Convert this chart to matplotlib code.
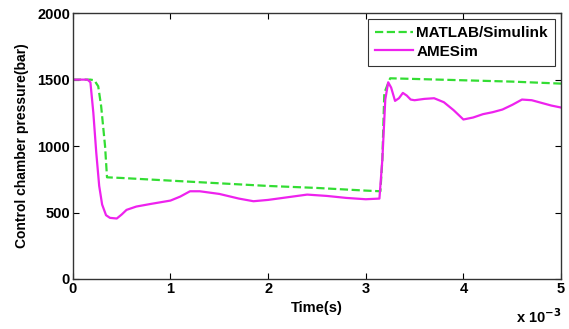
import numpy as np
import matplotlib.pyplot as plt

plt.rcParams['font.family'] = ['Liberation Sans', 'DejaVu Sans']
plt.rcParams['font.weight'] = 'bold'

# time in units of 1e-3 s
t_matlab = [0, 0.18, 0.22, 0.26, 0.29, 0.31, 0.33, 0.35, 0.5, 1.0, 1.5, 2.0, 2.5, 3.0, 3.15, 3.17, 3.19, 3.25, 3.5, 4.0, 4.5, 5.0]
p_matlab = [1500, 1500, 1495, 1450, 1300, 1150, 1000, 765, 760, 740, 720, 700, 685, 665, 660, 900, 1400, 1510, 1505, 1495, 1485, 1470]

t_ames = [0, 0.15, 0.18, 0.21, 0.24, 0.27, 0.30, 0.34, 0.38, 0.45, 0.50, 0.55, 0.65, 0.8, 1.0, 1.1, 1.2, 1.3,
          1.5, 1.7, 1.85, 2.0, 2.2, 2.4, 2.6, 2.8, 3.0, 3.14, 3.17, 3.20, 3.23, 3.26, 3.30, 3.34, 3.38, 3.42,
          3.46, 3.5, 3.6, 3.7, 3.8, 3.9, 4.0, 4.1, 4.2, 4.3, 4.4, 4.5, 4.6, 4.7, 4.8, 4.9, 5.0]
p_ames = [1500, 1500, 1480, 1250, 950, 700, 560, 480, 460, 455, 485, 520, 545, 565, 590, 620, 660, 660,
          640, 605, 585, 595, 615, 635, 625, 610, 600, 605, 900, 1350, 1480, 1440, 1340, 1360, 1400, 1380,
          1350, 1345, 1355, 1360, 1330, 1270, 1200, 1215, 1240, 1255, 1275, 1310, 1350, 1345, 1325, 1305, 1290]

fig = plt.figure(figsize=(5.69, 3.29), dpi=100)
ax = fig.add_axes([0.128, 0.152, 0.858, 0.808])

ax.plot(t_matlab, p_matlab, '--', color='#33dd33', lw=1.6, label='MATLAB/Simulink')
ax.plot(t_ames, p_ames, '-', color='#ee22ee', lw=1.6, label='AMESim')

ax.set_xlim(0, 5)
ax.set_ylim(0, 2000)
ax.set_xticks([0, 1, 2, 3, 4, 5])
ax.set_yticks([0, 500, 1000, 1500, 2000])
ax.tick_params(direction='in', top=True, right=True, labelsize=10.5, length=4, pad=2)
for s in ax.spines.values():
    s.set_linewidth(1.0)
    s.set_color('#333333')

ax.set_xlabel('Time(s)', fontsize=10.5, fontweight='bold', labelpad=4)
ax.set_ylabel('Control chamber pressure(bar)', fontsize=10, fontweight='bold', labelpad=6)
fig.text(0.986, 0.038, r'x 10$^{\mathbf{-3}}$', ha='right', va='center', fontsize=10.5, fontweight='bold')

leg = ax.legend(loc='upper right', frameon=True, fancybox=False, borderaxespad=0.4,
                handlelength=2.5, handletextpad=0.2, borderpad=0.45, labelspacing=0.3,
                edgecolor='black', prop={'weight': 'bold', 'size': 11})
leg.get_frame().set_linewidth(0.8)

fig.savefig('out.png', dpi=100)
